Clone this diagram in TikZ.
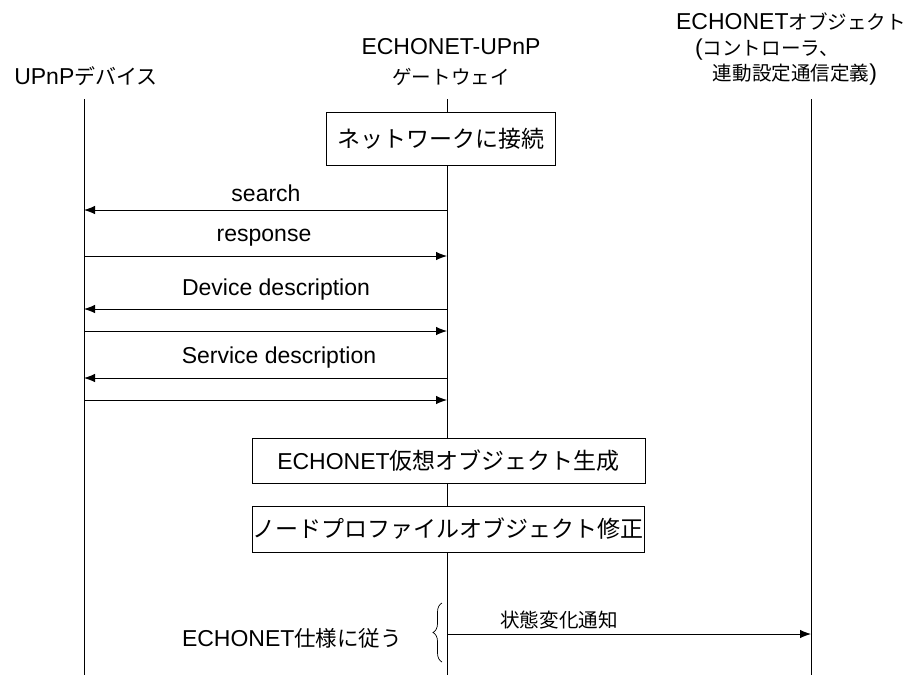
\documentclass[tikz,border=0pt]{standalone}
\usepackage{fontspec}
\setmainfont{Liberation Sans}
\newfontfamily\jpsmall[Scale=0.85]{Noto Sans CJK JP}
\newfontfamily\jpfull{Noto Sans CJK JP}
\newcommand\jtxt[1]{{\jpsmall #1}}
\newcommand\jbox[1]{{\jpfull #1}}
\usetikzlibrary{arrows.meta,decorations.pathreplacing}
\begin{document}
\begin{tikzpicture}[x=1pt,y=-1pt,
  txt/.style={inner sep=0pt, font=\fontsize{23pt}{27pt}\selectfont},
  procbox/.style={draw, fill=white, line width=0.8pt, inner sep=0pt, font=\fontsize{23pt}{27pt}\selectfont},
  life/.style={line width=0.9pt},
  msg/.style={line width=0.9pt, -{Latex[length=11pt,width=8.5pt]}}]
\useasboundingbox (0,0) rectangle (911,675);
% lifelines
\coordinate (Ltop) at (84,99);  \coordinate (Lbot) at (84,675);
\coordinate (Mtop) at (447,99); \coordinate (Mbot) at (447,675);
\coordinate (Rtop) at (811,99); \coordinate (Rbot) at (811,675);
\draw[life] (Ltop) -- (Lbot);
\draw[life] (Mtop) -- (Mbot);
\draw[life] (Rtop) -- (Rbot);
% headers
\node[txt] (hL) at (86,76) {UPnP{\jpfull\fontsize{21pt}{25pt}\selectfont デバイス}};
\node[txt] (hM1) at (451,47) {ECHONET-UPnP};
\node[txt] (hM2) at (451,77) {\jtxt{ゲートウェイ}};
\node[txt] (hR1) at (791,22) {ECHONET\jtxt{オブジェクト}};
\node[txt, anchor=west] (hR2) at (695,50) {(\jtxt{コントローラ、}};
\node[txt] (hR3) at (795,75) {\jtxt{連動設定通信定義})};
% process boxes
\node[procbox, minimum width=229pt, minimum height=53pt] (b1) at (440.5,138.5) {\jbox{ネットワークに接続}};
\node[procbox, minimum width=393pt, minimum height=45pt] (b2) at (448.5,460.5) {ECHONET\jbox{仮想オブジェクト生成}};
\node[procbox, minimum width=392pt, minimum height=46pt] (b3) at (448,529) {\jbox{ノードプロファイルオブジェクト修正}};
% messages
\coordinate (m1L) at (84,210); \coordinate (m1M) at (447,210);
\coordinate (m2L) at (84,256); \coordinate (m2M) at (447,256);
\coordinate (m3L) at (84,309); \coordinate (m3M) at (447,309);
\coordinate (m4L) at (84,331); \coordinate (m4M) at (447,331);
\coordinate (m5L) at (84,378); \coordinate (m5M) at (447,378);
\coordinate (m6L) at (84,400); \coordinate (m6M) at (447,400);
\coordinate (m7M) at (447,634); \coordinate (m7R) at (811,634);
\draw[msg] (m1M) -- (m1L);
\draw[msg] (m2L) -- (m2M);
\draw[msg] (m3M) -- (m3L);
\draw[msg] (m4L) -- (m4M);
\draw[msg] (m5M) -- (m5L);
\draw[msg] (m6L) -- (m6M);
\draw[msg] (m7M) -- (m7R);
\node[txt] (l1) at (266,193) {search};
\node[txt] (l2) at (264,238) {response};
\node[txt] (l3) at (276,290) {Device description};
\node[txt] (l5) at (279,358) {Service description};
\node[txt] (l7) at (559,620) {\jtxt{状態変化通知}};
% brace and note
\coordinate (brB) at (442,662); \coordinate (brT) at (442,603);
\draw[line width=0.7pt, decorate, decoration={brace, amplitude=9pt}] (brB) -- (brT);
\node[txt] (note) at (292,638) {ECHONET{\jpfull\fontsize{21.5pt}{25pt}\selectfont 仕様に従う}};
\end{tikzpicture}
\end{document}
